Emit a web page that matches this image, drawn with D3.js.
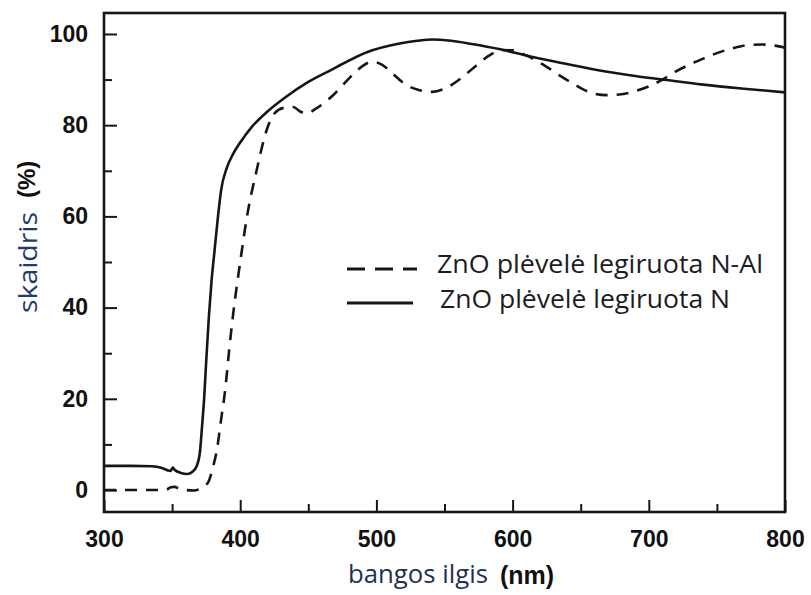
<!DOCTYPE html>
<html>
<head>
<meta charset="utf-8">
<script src="https://cdn.jsdelivr.net/npm/d3@7"></script>
<style>
  html, body { margin: 0; padding: 0; background: #fff; }
  svg { display: block; }
</style>
</head>
<body>
<svg id="chart" width="811" height="595"></svg>
<script>
// ---- data ----
const wavelengthN = [300, 320, 335, 342, 347, 349, 350.5, 352, 356, 361, 365, 368, 370.5, 372, 373.5, 375, 377, 379, 381, 383.7, 386, 390, 395, 400, 409, 420, 434, 450, 468, 493, 517, 530, 541, 555, 570, 590, 610, 635, 664, 690, 713, 740, 770, 800];
const transmN     = [5.3, 5.3, 5.2, 4.9, 4.3, 4.2, 4.9, 4.4, 3.8, 3.5, 4.0, 5.2, 8.5, 14, 20, 28, 38, 46, 52, 60, 65.8, 70.5, 73.8, 76.2, 79.8, 83, 86.3, 89.5, 92.3, 96, 97.9, 98.5, 98.8, 98.5, 97.8, 96.7, 95.3, 93.7, 92, 90.8, 89.9, 88.9, 88, 87.2];

const wavelengthNAl = [300, 340, 346, 349, 352, 355, 360, 366, 370, 374, 377, 380, 383, 386, 389, 392, 395, 400, 405, 412, 419.5, 425, 432, 439, 444, 449, 455, 462, 468, 475, 481, 489, 497, 504, 512, 520, 530, 541, 552, 563, 573, 583, 592, 600, 610, 625, 635, 644, 655, 669, 680, 688, 700, 710, 720, 730, 740, 750, 762, 774, 783, 791, 800];
const transmNAl     = [0, 0, 0.1, 0.6, 0.7, 0.3, 0, -0.1, 0.2, 0.9, 2, 5, 9, 15.5, 22, 31, 39, 50, 60, 70, 79, 82.5, 83.8, 84, 83, 82.6, 83.5, 85, 86.5, 88.7, 90.6, 92.8, 93.9, 93.3, 91.3, 89.2, 87.8, 87.3, 88.3, 90.5, 93, 95.3, 96.5, 96.4, 95.3, 92.8, 90.8, 89.2, 87.4, 86.6, 86.8, 87.3, 88.5, 90, 91.8, 93.3, 94.6, 95.8, 96.9, 97.6, 97.7, 97.5, 97];

const xMajorTicks = [300, 400, 500, 600, 700, 800];
const xMinorTicks = [350, 450, 550, 650, 750];
const yMajorTicks = [0, 20, 40, 60, 80, 100];
const yMinorTicks = [10, 30, 50, 70, 90];
const seriesLabels = ["ZnO plėvelė legiruota N-Al", "ZnO plėvelė legiruota N"];
const xTitle = "bangos ilgis";
const xUnit = "(nm)";
const yTitle = "skaidris";
const yUnit = "(%)";

// ---- layout ----
const svg = d3.select("#chart");
const plotLeft = 104, plotRight = 785, plotTop = 13, plotBottom = 512;
const x = d3.scaleLinear().domain([300, 800]).range([plotLeft, plotRight]);
const y = d3.scaleLinear().domain([-4.82, 104.6]).range([plotBottom, plotTop]);
const ink = "#161616";
const tickFont = "'Liberation Sans', Arial, sans-serif";
const textFont = "'Open Sans', 'Noto Sans', sans-serif";

// axes (ticks pointing inward)
const gx = svg.append("g").attr("transform", `translate(0,${plotBottom})`)
  .call(d3.axisBottom(x).tickValues(xMajorTicks).tickSize(-12).tickPadding(19).tickFormat(d3.format("d")));
const gxm = svg.append("g").attr("transform", `translate(0,${plotBottom})`)
  .call(d3.axisBottom(x).tickValues(xMinorTicks).tickSize(-8).tickFormat(""));
const gy = svg.append("g").attr("transform", `translate(${plotLeft},0)`)
  .call(d3.axisLeft(y).tickValues(yMajorTicks).tickSize(-13).tickPadding(16).tickFormat(d3.format("d")));
const gym = svg.append("g").attr("transform", `translate(${plotLeft},0)`)
  .call(d3.axisLeft(y).tickValues(yMinorTicks).tickSize(-8).tickFormat(""));

[gx, gxm, gy, gym].forEach(g => {
  g.select(".domain").remove();
  g.selectAll(".tick line").attr("stroke", ink).attr("stroke-width", 2);
  g.selectAll(".tick text").attr("fill", "#111").style("font-family", tickFont)
    .style("font-weight", "bold").style("font-size", "23px");
});

// frame
svg.append("rect").attr("x", plotLeft).attr("y", plotTop)
  .attr("width", plotRight - plotLeft).attr("height", plotBottom - plotTop)
  .attr("fill", "none").attr("stroke", ink).attr("stroke-width", 2.6);

// curves
const lineN = d3.line().x((d, i) => x(wavelengthN[i])).y(d => y(d)).curve(d3.curveMonotoneX);
const lineNAl = d3.line().x((d, i) => x(wavelengthNAl[i])).y(d => y(d)).curve(d3.curveMonotoneX);

svg.append("path").attr("d", lineNAl(transmNAl))
  .attr("fill", "none").attr("stroke", ink).attr("stroke-width", 2.6)
  .attr("stroke-dasharray", "12,9");
svg.append("path").attr("d", lineN(transmN))
  .attr("fill", "none").attr("stroke", ink).attr("stroke-width", 2.6);

// legend
const legend = svg.append("g");
legend.append("line").attr("x1", 347).attr("x2", 417).attr("y1", 269).attr("y2", 269)
  .attr("stroke", ink).attr("stroke-width", 3).attr("stroke-dasharray", "18,10");
legend.append("line").attr("x1", 347).attr("x2", 413).attr("y1", 303).attr("y2", 303)
  .attr("stroke", ink).attr("stroke-width", 3);
legend.append("text").attr("x", 437).attr("y", 273).text(seriesLabels[0])
  .attr("textLength", 326).attr("lengthAdjust", "spacingAndGlyphs")
  .style("font-family", textFont).style("font-size", "26px").attr("fill", "#1c1c24");
legend.append("text").attr("x", 440).attr("y", 308).text(seriesLabels[1])
  .attr("textLength", 290).attr("lengthAdjust", "spacingAndGlyphs")
  .style("font-family", textFont).style("font-size", "26px").attr("fill", "#1c1c24");

// axis titles
svg.append("text").attr("x", 348).attr("y", 583).text(xTitle)
  .attr("textLength", 140).attr("lengthAdjust", "spacingAndGlyphs")
  .style("font-family", textFont).style("font-size", "26px").attr("fill", "#1f2f55");
svg.append("text").attr("x", 500).attr("y", 584).text(xUnit)
  .style("font-family", tickFont).style("font-weight", "bold").style("font-size", "25px").attr("fill", "#111");

svg.append("text").attr("transform", "translate(37,313) rotate(-90)").text(yTitle)
  .attr("textLength", 101).attr("lengthAdjust", "spacingAndGlyphs")
  .style("font-family", textFont).style("font-size", "26px").attr("fill", "#1f3a70");
svg.append("text").attr("transform", "translate(35,198) rotate(-90)").text(yUnit)
  .style("font-family", tickFont).style("font-weight", "bold").style("font-size", "24px").attr("fill", "#111");
</script>
</body>
</html>
